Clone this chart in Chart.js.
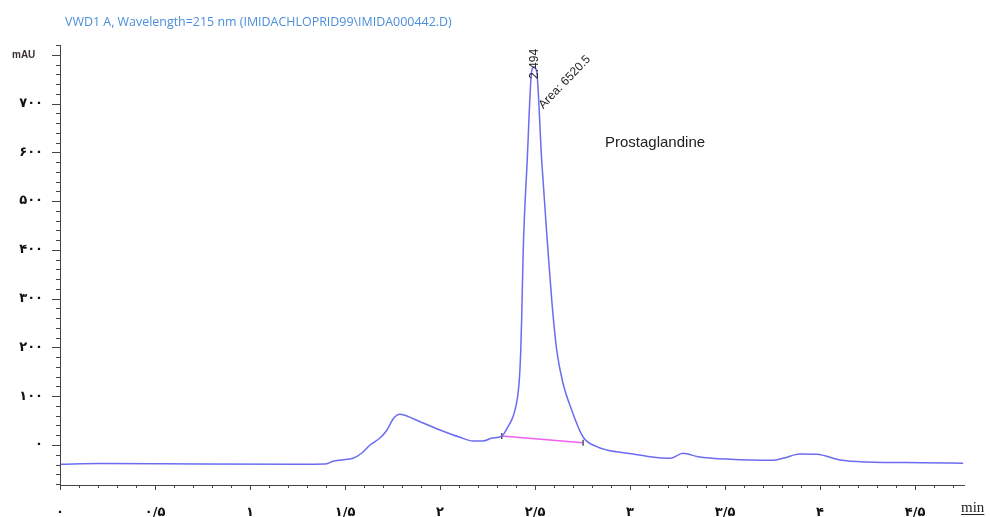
<!DOCTYPE html>
<html>
<head>
<meta charset="utf-8">
<script src="https://cdn.jsdelivr.net/npm/chart.js@4/dist/chart.umd.min.js"></script>
<style>
  html, body { margin: 0; padding: 0; background: #fff; }
  #wrap { width: 990px; height: 517px; }
</style>
</head>
<body>
<div id="wrap"><canvas id="chromChart" width="990" height="517"></canvas></div>
<script>
// Chromatogram - VWD1 A, 215 nm

const chartTitle = 'VWD1 A, Wavelength=215 nm (IMIDACHLOPRID99\\IMIDA000442.D)';

// retention time (min) and detector signal (mAU)
const times = [0, 0.21, 0.74, 1.26, 1.395, 1.437, 1.484, 1.542, 1.589, 1.632, 1.684, 1.721, 1.753, 1.772, 1.789, 1.806, 1.826, 1.895, 2.0, 2.105, 2.174, 2.226, 2.274, 2.325, 2.358, 2.379, 2.395, 2.408, 2.418, 2.425, 2.43, 2.438, 2.459, 2.483, 2.495, 2.509, 2.535, 2.568, 2.588, 2.614, 2.647, 2.693, 2.753, 2.825, 2.877, 3.016, 3.105, 3.211, 3.279, 3.358, 3.526, 3.753, 3.805, 3.895, 3.984, 4.105, 4.247, 4.542, 4.753];
const signal = [-39.5, -38, -39, -39.5, -39, -33.4, -30.7, -27.3, -16.4, 0, 14.3, 30.7, 53.3, 60.5, 62.9, 62, 59.4, 47.7, 30.7, 15.8, 8.2, 8.2, 14.3, 18.4, 37.5, 53, 72, 98, 137, 195, 262, 400, 584, 768, 775, 765, 584, 400, 297, 195, 127, 71.7, 16.4, -3.5, -10.2, -18.4, -24, -27.3, -17, -24, -29.3, -31.4, -27.3, -18.4, -19, -30.7, -34.8, -36.3, -37.5];

// integration baseline under the main peak
const baseTimes = [2.325, 2.753];
const baseValues = [18.4, 4.7];

// peak annotations
const peakTime = 2.494;
const peakTop = 775;
const peakLabel = '2.494';
const areaLabel = 'Area: 6520.5';
const compoundName = 'Prostaglandine';
const yUnit = 'mAU';
const xUnit = 'min';

// axis limits
const xMin = 0, xMax = 4.763;
const yMin = -82, yMax = 820;

const persianDigits = ['۰', '۱', '۲', '۳', '۴', '۵', '۶', '۷', '۸', '۹'];
function toPersian(str) {
    return String(str).replace(/[0-9]/g, d => persianDigits[+d]).replace('.', '/');
}

function isMultiple(v, step) {
    return Math.abs(v / step - Math.round(v / step)) < 1e-6;
}

// axis lines, minor/major ticks and free text
const decorPlugin = {
    id: 'decor',
    afterDraw(chart) {
        const ctx = chart.ctx;
        const area = chart.chartArea;
        const xs = chart.scales.x;
        const ys = chart.scales.y;

        ctx.save();
        ctx.strokeStyle = '#444';
        ctx.lineWidth = 1;
        ctx.beginPath();
        ctx.moveTo(area.left + 0.5, area.top);
        ctx.lineTo(area.left + 0.5, area.bottom);
        ctx.moveTo(area.left, area.bottom + 0.5);
        ctx.lineTo(area.right, area.bottom + 0.5);
        ys.ticks.forEach(t => {
            const py = Math.round(ys.getPixelForValue(t.value)) + 0.5;
            const len = isMultiple(t.value, 100) ? 8 : 4;
            ctx.moveTo(area.left - len, py);
            ctx.lineTo(area.left, py);
        });
        xs.ticks.forEach(t => {
            const px = Math.round(xs.getPixelForValue(t.value)) + 0.5;
            const len = isMultiple(t.value, 0.5) ? 5 : 3;
            ctx.moveTo(px, area.bottom);
            ctx.lineTo(px, area.bottom + len);
        });
        ctx.stroke();

        // title
        ctx.fillStyle = '#4a8fd8';
        ctx.font = '12.45px "Open Sans", sans-serif';
        ctx.textAlign = 'left';
        ctx.textBaseline = 'middle';
        ctx.fillText(chartTitle, 65, 22);

        // y unit
        ctx.fillStyle = '#3a3030';
        ctx.font = 'bold 10px "Liberation Sans", Arial, sans-serif';
        ctx.fillText(yUnit, 12, ys.getPixelForValue(800));

        // x unit
        ctx.fillStyle = '#222';
        ctx.font = '15px "Liberation Serif", serif';
        ctx.textBaseline = 'alphabetic';
        ctx.fillText(xUnit, 961, 512);
        const w = ctx.measureText(xUnit).width;
        ctx.fillRect(961, 514, w, 1);

        // peak labels
        const px = xs.getPixelForValue(peakTime);
        const py = ys.getPixelForValue(peakTop);
        ctx.font = '12px "Liberation Sans", Arial, sans-serif';
        ctx.fillStyle = '#222';
        ctx.save();
        ctx.translate(px + 1, py + 12);
        ctx.rotate(-Math.PI / 2);
        ctx.textAlign = 'left';
        ctx.textBaseline = 'middle';
        ctx.fillText(peakLabel, 0, 0);
        ctx.restore();

        ctx.save();
        ctx.translate(px + 7, py + 40);
        ctx.rotate(-46 * Math.PI / 180);
        ctx.textAlign = 'left';
        ctx.textBaseline = 'middle';
        ctx.fillText(areaLabel, 0, 0);
        ctx.restore();

        ctx.font = '15px "Liberation Sans", Arial, sans-serif';
        ctx.textAlign = 'left';
        ctx.textBaseline = 'middle';
        ctx.fillText(compoundName, 605, 143);
        ctx.restore();
    }
};

const ctx = document.getElementById('chromChart').getContext('2d');

const chromChart = new Chart(ctx, {
    type: 'line',
    data: {
        datasets: [
            {
                label: 'Signal',
                data: times.map((t, i) => ({ x: t, y: signal[i] })),
                borderColor: '#6c6cf2',
                borderWidth: 1.5,
                pointRadius: 0,
                cubicInterpolationMode: 'monotone',
                fill: false
            },
            {
                label: 'Baseline',
                data: baseTimes.map((t, i) => ({ x: t, y: baseValues[i] })),
                borderColor: '#f060f0',
                borderWidth: 1.5,
                pointStyle: 'line',
                rotation: 90,
                pointRadius: 3,
                pointBorderColor: '#555',
                pointBorderWidth: 1.5,
                fill: false
            }
        ]
    },
    options: {
        responsive: false,
        animation: false,
        layout: {
            padding: { top: 45, right: 25, left: 0, bottom: 0 }
        },
        plugins: {
            legend: { display: false },
            tooltip: { enabled: false }
        },
        scales: {
            x: {
                type: 'linear',
                min: xMin,
                max: xMax,
                border: { display: false },
                grid: { display: false, drawTicks: false },
                afterFit: s => { s.height = 32; },
                ticks: {
                    stepSize: 0.1,
                    includeBounds: false,
                    autoSkip: false,
                    maxRotation: 0,
                    padding: 20,
                    color: '#111',
                    font: { family: '"DejaVu Sans", sans-serif', size: 13, weight: 'bold' },
                    callback: v => isMultiple(v, 0.5) ? toPersian(Math.round(v * 10) / 10) : ''
                }
            },
            y: {
                min: yMin,
                max: yMax,
                border: { display: false },
                grid: { display: false, drawTicks: false },
                afterFit: s => { s.width = 60; },
                ticks: {
                    stepSize: 20,
                    includeBounds: false,
                    autoSkip: false,
                    padding: 17,
                    color: '#111',
                    font: { family: '"DejaVu Sans", sans-serif', size: 13, weight: 'bold' },
                    callback: v => (v >= 0 && v < 800 && isMultiple(v, 100)) ? toPersian(v) : ''
                }
            }
        }
    },
    plugins: [decorPlugin]
});
</script>
</body>
</html>
